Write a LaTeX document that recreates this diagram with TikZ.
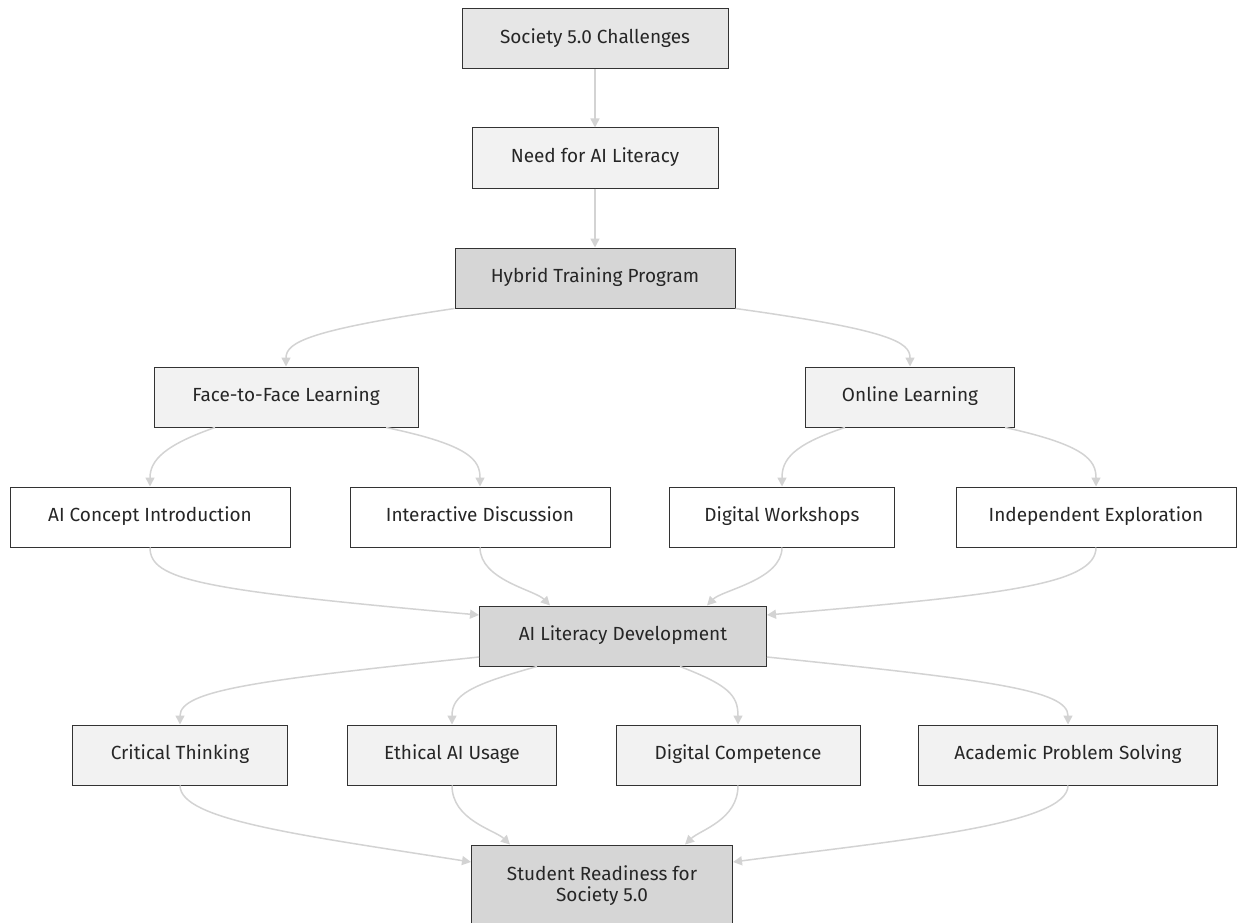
\documentclass[tikz,border=0pt]{standalone}
\usepackage{fontspec}
\setmainfont{Fira Sans}
\usetikzlibrary{arrows.meta}

\definecolor{edgegray}{HTML}{D3D3D3}
\definecolor{boxline}{HTML}{333333}
\definecolor{lightfill}{HTML}{F2F2F2}
\definecolor{midfill}{HTML}{E6E6E6}
\definecolor{darkfill}{HTML}{D6D6D6}

\begin{document}
\begin{tikzpicture}[x=1pt, y=-1pt,
    box/.style={rectangle, draw=boxline, line width=1pt, text=black!85,
        minimum height=60pt, inner sep=0pt, align=center,
        text height=13.5pt, text depth=4pt,
        font=\fontsize{19pt}{21pt}\selectfont},
    light/.style={box, fill=lightfill},
    mid/.style={box, fill=midfill},
    dark/.style={box, fill=darkfill},
    plain/.style={box, fill=white},
    flow/.style={edgegray, line width=1.5pt, -{Triangle[length=9pt, width=9pt]}}]
    \useasboundingbox (0,0) rectangle (1239,923);

    % Define nodes
    \node (soc) at (595,39) [mid, minimum width=266pt] {Society 5.0 Challenges};
    \node (need) at (595,158) [light, minimum width=246pt] {Need for AI Literacy};
    \node (hyb) at (595,278) [dark, minimum width=280pt] {Hybrid Training Program};
    \node (f2f) at (286,397) [light, minimum width=264pt] {Face-to-Face Learning};
    \node (online) at (910,397) [light, minimum width=209pt] {Online Learning};
    \node (intro) at (150,517) [plain, minimum width=280pt] {AI Concept Introduction};
    \node (disc) at (480,517) [plain, minimum width=260pt] {Interactive Discussion};
    \node (ws) at (782,517) [plain, minimum width=225pt] {Digital Workshops};
    \node (expl) at (1096,517) [plain, minimum width=280pt] {Independent Exploration};
    \node (dev) at (623,636) [dark, minimum width=287pt] {AI Literacy Development};
    \node (crit) at (180,755) [light, minimum width=215pt] {Critical Thinking};
    \node (eth) at (452,755) [light, minimum width=209pt] {Ethical AI Usage};
    \node (comp) at (738,755) [light, minimum width=244pt] {Digital Competence};
    \node (acad) at (1068,755) [light, minimum width=299pt] {Academic Problem Solving};
    \node (ready) at (602,886) [dark, minimum width=261pt, minimum height=82pt,
        text height=, text depth=]
        {Student Readiness for\\Society 5.0};

    % Draw arrows
    \draw[flow] (soc) -- (need);
    \draw[flow] (need) -- (hyb);
    \draw[flow] (hyb.south west) .. controls (310,330) and (286,342) .. (f2f.north);
    \draw[flow] (hyb.south east) .. controls (890,330) and (910,342) .. (online.north);
    \draw[flow] ([xshift=-71pt]f2f.south) .. controls (165,445) and (150,460) .. (intro.north);
    \draw[flow] ([xshift=100pt]f2f.south) .. controls (470,445) and (480,460) .. (disc.north);
    \draw[flow] ([xshift=-65pt]online.south) .. controls (792,445) and (782,460) .. (ws.north);
    \draw[flow] ([xshift=95pt]online.south) .. controls (1085,445) and (1096,460) .. (expl.north);

    \draw[flow] (intro.south) .. controls (150,580) and (200,590) .. ([yshift=21pt]dev.west);
    \draw[flow] (disc.south) .. controls (480,580) and (535,590) .. ([xshift=-73pt]dev.north);
    \draw[flow] (ws.south) .. controls (782,580) and (722,590) .. ([xshift=84pt]dev.north);
    \draw[flow] (expl.south) .. controls (1096,585) and (1000,595) .. ([yshift=21pt]dev.east);

    \draw[flow] ([yshift=-21pt]dev.west) .. controls (260,680) and (180,690) .. (crit.north);
    \draw[flow] ([xshift=-86pt]dev.south) .. controls (470,685) and (452,695) .. (eth.north);
    \draw[flow] ([xshift=57pt]dev.south) .. controls (728,685) and (738,695) .. (comp.north);
    \draw[flow] ([yshift=-21pt]dev.east) .. controls (990,680) and (1068,690) .. (acad.north);

    \draw[flow] (crit.south) .. controls (180,820) and (300,835) .. ([yshift=24pt]ready.west);
    \draw[flow] (eth.south) .. controls (452,820) and (495,830) .. ([xshift=-92pt]ready.north);
    \draw[flow] (comp.south) .. controls (738,820) and (700,830) .. ([xshift=83pt]ready.north);
    \draw[flow] (acad.south) .. controls (1068,825) and (900,840) .. ([yshift=24pt]ready.east);
\end{tikzpicture}
\end{document}
